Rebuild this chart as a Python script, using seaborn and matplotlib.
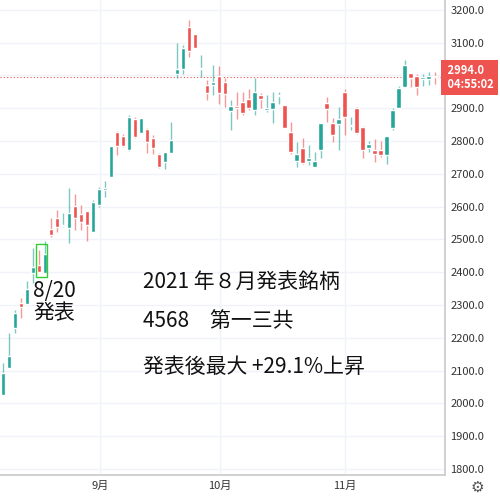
import matplotlib
matplotlib.use("Agg")
import matplotlib.pyplot as plt
import numpy as np
import seaborn as sns
from matplotlib.patches import Rectangle

sns.set_theme(style="white")
plt.rcParams["font.family"] = ["Noto Sans CJK JP", "DejaVu Sans"]

UP = "#26a69a"
DOWN = "#ef5350"

# OHLC daily candles
opens = [2026, 2109, 2230, 2307, 2304, 2398, 2422, 2398, 2532, 2566, 2541, 2535, 2602, 2578,
         2587, 2523, 2605, 2651, 2691, 2828, 2816, 2773, 2868, 2825, 2837, 2810, 2761, 2737,
         2764, 3005, 3020, 3148, 3127, 3020, 2971, 2971, 2999, 2980, 2892, 2907, 2920, 2929,
         2895, 2941, 2895, 2898, 2938, 2910, 2828, 2740, 2779, 2740, 2721, 2773, 2917, 2856,
         2853, 2950, 2847, 2901, 2844, 2779, 2773, 2773, 2758, 2840, 2901, 2965, 3008, 2999,
         2990, 2990, 2999]
closes = [2093, 2145, 2276, 2294, 2349, 2416, 2401, 2456, 2514, 2538, 2545, 2581, 2566, 2554,
          2545, 2615, 2654, 2657, 2785, 2785, 2785, 2874, 2813, 2871, 2798, 2779, 2721, 2767,
          2804, 3020, 3084, 3075, 3084, 3023, 2947, 2980, 2947, 2944, 2907, 2901, 2886, 2901,
          2950, 2929, 2901, 2920, 2941, 2840, 2767, 2761, 2733, 2749, 2740, 2856, 2898, 2819,
          2868, 2874, 2850, 2825, 2773, 2792, 2761, 2758, 2816, 2895, 2962, 3032, 2993, 2965,
          2996, 2999, 2994]
highs = [2124, 2215, 2285, 2322, 2374, 2474, 2468, 2496, 2566, 2590, 2581, 2657, 2639, 2605,
         2587, 2621, 2660, 2679, 2785, 2831, 2822, 2880, 2874, 2871, 2840, 2819, 2764, 2767,
         2859, 3099, 3093, 3170, 3127, 3063, 2987, 3032, 3029, 2993, 2926, 2950, 2950, 2959,
         2993, 2947, 2941, 2950, 2950, 2910, 2859, 2798, 2810, 2788, 2767, 2856, 2935, 2871,
         2904, 2959, 2874, 2904, 2847, 2801, 2807, 2801, 2816, 2901, 2968, 3047, 3008, 3005,
         3005, 3011, 3011]
lows = [2026, 2109, 2215, 2261, 2304, 2368, 2401, 2398, 2508, 2523, 2538, 2490, 2529, 2529,
        2496, 2523, 2599, 2630, 2691, 2758, 2782, 2770, 2810, 2825, 2764, 2761, 2718, 2715,
        2764, 2993, 3005, 3057, 3084, 2996, 2926, 2941, 2913, 2904, 2834, 2868, 2880, 2895,
        2880, 2901, 2889, 2856, 2913, 2840, 2761, 2721, 2730, 2727, 2721, 2749, 2859, 2798,
        2773, 2819, 2834, 2822, 2749, 2767, 2737, 2752, 2730, 2834, 2901, 2965, 2965, 2941,
        2968, 2971, 2974]

last_price = 2994.0
month_pos = [16.2, 36.2, 57.0]
month_labels = ["9月", "10月", "11月"]
y_ticks = [1800, 1900, 2000, 2100, 2200, 2300, 2400, 2500, 2600, 2700, 2800, 2900, 3000, 3100, 3200]

o = np.array(opens); c = np.array(closes); h = np.array(highs); l = np.array(lows)
x = np.arange(len(o))
col = np.where(c >= o, UP, DOWN)

fig = plt.figure(figsize=(5, 5), dpi=100)
ax = fig.add_axes([0, 0.05, 0.89, 0.95])

for yv in y_ticks:
    ax.axhline(yv, color="#f0f3fa", lw=1, zorder=0)
for xv in month_pos:
    ax.axvline(xv, color="#f0f3fa", lw=1, zorder=0)

ax.vlines(x, l, h, colors=col, lw=1, alpha=0.6, zorder=2)
body = np.maximum(np.abs(c - o), 2)
ax.bar(x, body, bottom=np.minimum(o, c), width=0.8, color=col, zorder=3)

ax.axhline(last_price, color=DOWN, lw=0.8, ls=(0, (1, 2)), zorder=1)

ax.set_xlim(-0.5, 73.7)
ax.set_ylim(1782, 3230)
ax.yaxis.tick_right()
ax.set_yticks(y_ticks)
# the 3000 label is hidden behind the last-price tag
ax.set_yticklabels(["" if v == 3000 else f"{v:.1f}" for v in y_ticks], fontsize=8, color="#333333")
ax.set_xticks(month_pos)
ax.set_xticklabels(month_labels, fontsize=8, color="#333333")
ax.tick_params(length=0, pad=4)
for s in ["top", "left"]:
    ax.spines[s].set_visible(False)
ax.spines["right"].set_color("#cccccc")
ax.spines["bottom"].set_color("#cccccc")

# last price tag
ax.text(1.0, (last_price - 1782) / (3230 - 1782), " 2994.0\n 04:55:02", transform=ax.transAxes,
        ha="left", va="center", fontsize=8, color="white", fontweight="bold", linespacing=1.1,
        bbox=dict(boxstyle="square,pad=0.35", fc=DOWN, ec="none"), clip_on=False, zorder=5)

# highlight announcement candle
ax.add_patch(Rectangle((5.5, 2385), 1.9, 100, fill=False, ec="#33cc33", lw=1, zorder=4))
ax.text(5.0, 2375, "8/20\n発表", fontsize=15, va="top", ha="left", linespacing=1.0, color="#111111")

ax.text(23.3, 2370, "2021 年８月発表銘柄", fontsize=15, va="center", color="#111111")
ax.text(23.3, 2250, "4568　第一三共", fontsize=15, va="center", color="#111111")
ax.text(23.3, 2110, "発表後最大 +29.1%上昇", fontsize=15, va="center", color="#111111")

fig.text(0.955, 0.025, "⚙", fontsize=11, ha="center", va="center", color="#555555",
         family="DejaVu Sans")

fig.savefig("out.png", dpi=100, facecolor="white")
